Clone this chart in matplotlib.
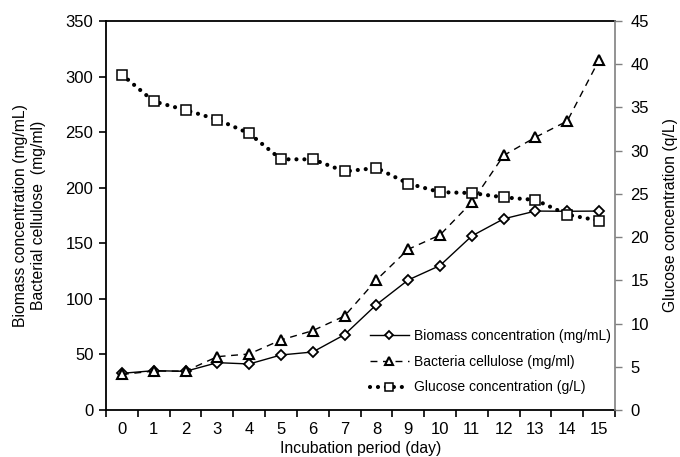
import matplotlib
matplotlib.use("Agg")
import matplotlib.pyplot as plt
from matplotlib.ticker import FixedLocator

plt.rcParams['font.family'] = ['Liberation Sans', 'DejaVu Sans']

days = list(range(16))
biomass = [33, 35.4, 34.8, 42.6, 41.4, 49.5, 52.2, 67.8, 94.8, 117, 130, 156.6, 172, 179, 178.8, 179]
cellulose = [32, 35, 35, 48, 50.4, 63, 71.4, 84.6, 117, 144.6, 157.5, 187, 229, 245.4, 260, 315]
glucose = [38.8, 35.7, 34.7, 33.6, 32.0, 29.0, 29.0, 27.6, 28.0, 26.2, 25.2, 25.1, 24.6, 24.3, 22.6, 21.9]

FS = 12
LFS = 11.3

fig = plt.figure(figsize=(6.8, 4.57), dpi=100)
ax = fig.add_axes([106/680, 1-410/457, (615-106)/680, (410-21)/457])
ax2 = ax.twinx()

l1, = ax.plot(days, biomass, '-', color='black', lw=1.0, marker='D', ms=5.5,
              mfc='white', mec='black', mew=1.3, label='Biomass concentration (mg/mL)')
l2, = ax.plot(days, cellulose, color='black', lw=1.0, ls=(0, (5, 4)), marker='^', ms=7,
              mfc='white', mec='black', mew=1.5, label='Bacteria cellulose (mg/ml)')
l3, = ax2.plot(days, glucose, color='black', lw=3.0, ls=(0, (0.01, 1.9)), dash_capstyle='round',
               marker='s', ms=7.5, mfc='white', mec='black', mew=1.1, label='Glucose concentration (g/L)')

ax.set_xlim(-0.5, 15.5)
ax.set_ylim(0, 350)
ax2.set_ylim(0, 45)
ax.set_yticks(range(0, 351, 50))
ax2.set_yticks(range(0, 46, 5))
ax.set_xticks(days)
ax.set_xticklabels([str(d) for d in days])
ax.xaxis.set_minor_locator(FixedLocator([d - 0.5 for d in range(17)]))
ax.tick_params(axis='x', which='major', length=0, labelsize=FS, pad=9)
ax.tick_params(axis='x', which='minor', length=5, width=1.2, direction='out')
ax.tick_params(axis='y', labelsize=FS, length=5, width=1.2, direction='out', pad=4)
ax2.tick_params(axis='y', labelsize=FS, length=5, width=1.0, direction='out', color='#808080', pad=6)

for s in ['left', 'bottom', 'top']:
    ax.spines[s].set_linewidth(1.3)
ax.spines['right'].set_visible(False)
ax2.spines['right'].set_color('#808080')
ax2.spines['right'].set_linewidth(1.2)
for s in ['left', 'bottom', 'top']:
    ax2.spines[s].set_visible(False)

ax.set_xlabel('Incubation period (day)', fontsize=LFS, labelpad=2.5)
ax.set_ylabel('Biomass concentration (mg/mL)\nBacterial cellulose  (mg/ml)', fontsize=LFS,
              labelpad=14, linespacing=1.25)
ax2.set_ylabel('Glucose concentration (q/L)', fontsize=LFS, labelpad=10)

leg = ax.legend(handles=[l1, l2, l3], loc='lower right', bbox_to_anchor=(1.006, 0.022),
                frameon=False, fontsize=10, handlelength=2.8, handletextpad=0.4,
                labelspacing=0.85, borderaxespad=0.1, markerscale=0.8)

fig.savefig('out.png', dpi=100)
